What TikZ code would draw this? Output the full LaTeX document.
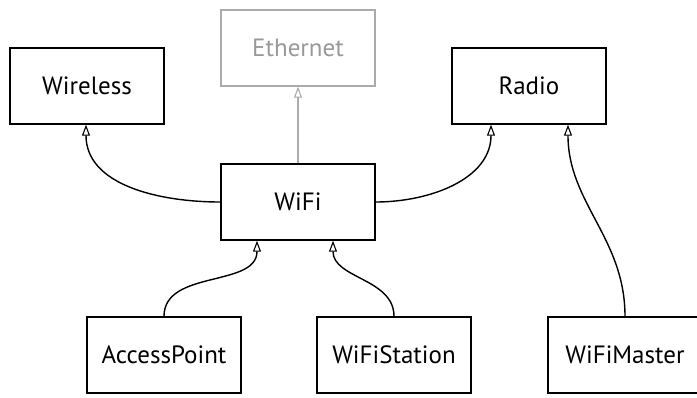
\documentclass[tikz,border=0pt]{standalone}
\usepackage{fontspec}
\setmainfont{PT Sans}
\usetikzlibrary{arrows.meta}
\tikzset{
  cls/.style={draw=black, line width=1.4pt, minimum width=154pt, minimum height=76pt, inner sep=0pt, font=\fontsize{25}{28}\selectfont},
  ghost/.style={cls, draw=black!33, text=black!40},
  inh/.style={line width=1.4pt, -{Triangle[open, length=11pt, width=8pt, line width=1.1pt]}},
  inhg/.style={inh, draw=black!33},
}
\begin{document}
\begin{tikzpicture}[x=1pt, y=-1pt]
\useasboundingbox (0,0) rectangle (697,397);
\node[cls] (wireless) at (87,86) {Wireless};
\node[ghost] (ethernet) at (298,48) {Ethernet};
\node[cls] (radio) at (529,86) {Radio};
\node[cls] (wifi) at (298,202) {WiFi};
\node[cls] (ap) at (164,355) {AccessPoint};
\node[cls] (sta) at (394,355) {WiFiStation};
\node[cls] (master) at (625,355) {WiFiMaster};
\draw[inhg] (wifi.north) -- (ethernet.south);
\draw[inh] (wifi.west) to[out=180, in=-90] ([xshift=-1pt]wireless.south);
\draw[inh] (wifi.east) to[out=0, in=-90] ([xshift=-38pt]radio.south);
\draw[inh] (ap.north) to[out=90, in=-90] ([xshift=-41pt]wifi.south);
\draw[inh] (sta.north) to[out=90, in=-90] ([xshift=35pt]wifi.south);
\draw[inh] (master.north) to[out=90, in=-90] ([xshift=39pt]radio.south);
\end{tikzpicture}
\end{document}
